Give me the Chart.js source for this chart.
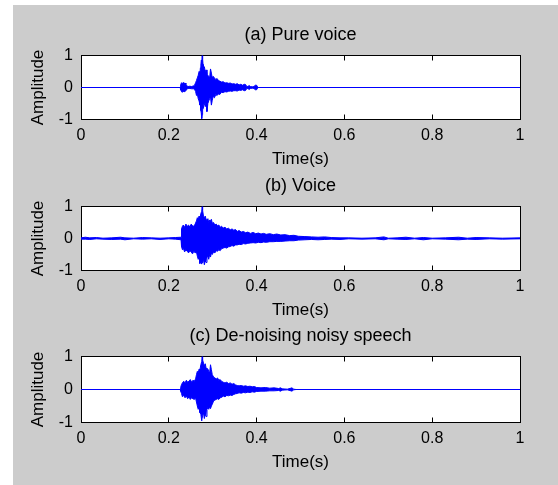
<!DOCTYPE html>
<html>
<head>
<meta charset="utf-8">
<script src="https://cdn.jsdelivr.net/npm/chart.js@4.4.1/dist/chart.umd.min.js"></script>
<style>
  html, body { margin: 0; padding: 0; background: #fff; }
  #fig { position: absolute; left: 13px; top: 5px; width: 545px; height: 480px; background: #cccccc; }
  canvas { position: absolute; left: 0; }
</style>
</head>
<body>
<div id="fig"></div>
<canvas id="c0" width="558" height="164" style="top:10px"></canvas>
<canvas id="c1" width="558" height="164" style="top:161px"></canvas>
<canvas id="c2" width="558" height="166" style="top:311px"></canvas>
<script>
// tick labels (MATLAB default ticks)
const xTicks = [0, 0.2, 0.4, 0.6, 0.8, 1];
const xTickLabels = ['0', '0.2', '0.4', '0.6', '0.8', '1'];
const yTicks = [-1, 0, 1];
const yTickLabels = ['-1', '0', '1'];

const titles = ['(a) Pure voice', '(b) Voice', '(c) De-noising noisy speech'];

// (a) pure voice — envelope (time s, upper, lower)
const tA = [0, 0.226, 0.227, 0.229, 0.231, 0.233, 0.235, 0.237, 0.239, 0.241, 0.244, 0.248, 0.252, 0.256, 0.259,
  0.261, 0.263, 0.265, 0.267, 0.269, 0.271, 0.272, 0.273, 0.274, 0.275, 0.276, 0.277, 0.278, 0.279, 0.281,
  0.283, 0.285, 0.287, 0.289, 0.291, 0.293, 0.295, 0.297, 0.299, 0.301, 0.304, 0.307, 0.31, 0.313, 0.316,
  0.32, 0.324, 0.328, 0.332, 0.336, 0.34, 0.344, 0.348, 0.352, 0.356, 0.36, 0.364, 0.368, 0.372, 0.375,
  0.377, 0.38, 0.383, 0.386, 0.39, 0.394, 0.397, 0.4, 0.402, 0.404, 1];
const upA = [0, 0, 0.08, 0.15, 0.12, 0.16, 0.13, 0.14, 0.1, 0.05, 0.03, 0.04, 0.03, 0.05, 0.08,
  0.15, 0.22, 0.3, 0.38, 0.5, 0.45, 0.62, 0.7, 0.85, 0.78, 1.0, 0.9, 0.72, 0.6, 0.65,
  0.5, 0.55, 0.42, 0.38, 0.35, 0.3, 0.58, 0.45, 0.3, 0.35, 0.3, 0.25, 0.28, 0.22, 0.2,
  0.17, 0.18, 0.14, 0.15, 0.13, 0.14, 0.11, 0.12, 0.1, 0.12, 0.08, 0.1, 0.07, 0.1, 0.09,
  0.04, 0.03, 0.06, 0.03, 0.02, 0.03, 0.07, 0.07, 0.03, 0, 0];
const loA = [0, 0, -0.07, -0.13, -0.15, -0.12, -0.14, -0.11, -0.1, -0.05, -0.03, -0.03, -0.04, -0.04, -0.07,
  -0.12, -0.25, -0.2, -0.35, -0.42, -0.55, -0.5, -0.72, -0.8, -0.97, -0.85, -0.7, -0.65, -0.55, -0.5,
  -0.6, -0.45, -0.75, -0.5, -0.42, -0.35, -0.3, -0.55, -0.4, -0.28, -0.32, -0.22, -0.25, -0.2, -0.22,
  -0.15, -0.16, -0.13, -0.14, -0.12, -0.11, -0.12, -0.1, -0.1, -0.11, -0.08, -0.09, -0.07, -0.1, -0.09,
  -0.04, -0.03, -0.06, -0.03, -0.02, -0.03, -0.07, -0.07, -0.03, 0, 0];

// (b) noisy voice
const tB = [0, 0.01, 0.02, 0.035, 0.05, 0.07, 0.09, 0.1, 0.12, 0.14, 0.16, 0.18, 0.2, 0.215, 0.228,
  0.229, 0.231, 0.233, 0.236, 0.239, 0.242, 0.245, 0.248, 0.251, 0.254, 0.257, 0.26, 0.263, 0.265,
  0.267, 0.269, 0.271, 0.273, 0.275, 0.276, 0.277, 0.279, 0.281, 0.283, 0.285, 0.287, 0.289, 0.291,
  0.293, 0.295, 0.297, 0.299, 0.302, 0.305, 0.308, 0.311, 0.314, 0.317, 0.32, 0.324, 0.328, 0.332,
  0.336, 0.34, 0.344, 0.348, 0.352, 0.356, 0.36, 0.365, 0.37, 0.375, 0.38, 0.386, 0.392, 0.398,
  0.404, 0.41, 0.416, 0.422, 0.43, 0.438, 0.446, 0.455, 0.465, 0.475, 0.485, 0.495, 0.51, 0.525,
  0.54, 0.555, 0.57, 0.59, 0.61, 0.64, 0.67, 0.69, 0.7, 0.72, 0.74, 0.76, 0.78, 0.8, 0.83,
  0.86, 0.88, 0.9, 0.93, 0.96, 1];
const upB = [0.02, 0.04, 0.02, 0.03, 0.01, 0.02, 0.04, 0.02, 0.01, 0.03, 0.02, 0.01, 0.02, 0.03, 0.04,
  0.3, 0.38, 0.42, 0.35, 0.45, 0.38, 0.42, 0.36, 0.45, 0.4, 0.38, 0.45, 0.55, 0.65,
  0.6, 0.7, 0.62, 0.78, 0.85, 1.0, 0.88, 0.7, 0.65, 0.7, 0.6, 0.55, 0.62, 0.5,
  0.58, 0.55, 0.6, 0.48, 0.5, 0.42, 0.45, 0.4, 0.42, 0.35, 0.38, 0.33, 0.35, 0.3,
  0.32, 0.27, 0.3, 0.26, 0.28, 0.22, 0.25, 0.2, 0.22, 0.18, 0.2, 0.16, 0.19, 0.15,
  0.17, 0.14, 0.16, 0.13, 0.15, 0.12, 0.14, 0.11, 0.12, 0.09, 0.1, 0.07, 0.06, 0.05,
  0.04, 0.05, 0.03, 0.02, 0.02, 0.01, 0.02, 0.05, 0.01, 0.02, 0.04, 0.01, 0.03, 0.01, 0.02,
  0.04, 0.01, 0.03, 0.02, 0.01, 0.02];
const loB = [-0.02, -0.02, -0.03, -0.01, -0.02, -0.03, -0.02, -0.04, -0.01, -0.02, -0.01, -0.03, -0.01, -0.02, -0.04,
  -0.25, -0.35, -0.3, -0.42, -0.35, -0.4, -0.45, -0.38, -0.42, -0.48, -0.4, -0.45, -0.42, -0.55,
  -0.65, -0.6, -0.78, -0.7, -0.8, -0.72, -0.75, -0.65, -0.82, -0.7, -0.75, -0.6, -0.55, -0.65,
  -0.5, -0.58, -0.45, -0.5, -0.42, -0.45, -0.38, -0.4, -0.35, -0.38, -0.32, -0.3, -0.28, -0.3,
  -0.26, -0.25, -0.22, -0.24, -0.2, -0.2, -0.18, -0.19, -0.16, -0.17, -0.15, -0.14, -0.13, -0.14,
  -0.12, -0.13, -0.11, -0.12, -0.1, -0.1, -0.09, -0.09, -0.08, -0.07, -0.07, -0.05, -0.04, -0.03,
  -0.04, -0.03, -0.02, -0.03, -0.01, -0.02, -0.01, -0.04, -0.01, -0.02, -0.03, -0.01, -0.04, -0.01, -0.02,
  -0.04, -0.02, -0.03, -0.01, -0.02, -0.01];

// (c) de-noised speech
const tC = [0, 0.226, 0.227, 0.229, 0.231, 0.234, 0.237, 0.24, 0.243, 0.246, 0.249, 0.252, 0.255, 0.258,
  0.261, 0.263, 0.265, 0.267, 0.269, 0.271, 0.273, 0.275, 0.276, 0.277, 0.279, 0.281, 0.283, 0.285,
  0.287, 0.289, 0.291, 0.293, 0.295, 0.297, 0.299, 0.302, 0.305, 0.308, 0.311, 0.314, 0.317, 0.32,
  0.324, 0.328, 0.332, 0.336, 0.34, 0.344, 0.348, 0.352, 0.356, 0.36, 0.365, 0.37, 0.375, 0.38,
  0.385, 0.39, 0.395, 0.4, 0.41, 0.42, 0.43, 0.44, 0.45, 0.455, 0.458, 0.47, 0.481, 0.484, 0.49, 1];
const upC = [0, 0, 0.06, 0.15, 0.2, 0.25, 0.2, 0.28, 0.22, 0.25, 0.3, 0.22, 0.28, 0.25,
  0.32, 0.45, 0.55, 0.5, 0.62, 0.6, 0.75, 0.85, 1.0, 0.9, 0.8, 0.72, 0.78, 0.65,
  0.6, 0.62, 0.55, 0.5, 0.75, 0.6, 0.45, 0.38, 0.35, 0.32, 0.35, 0.28, 0.3, 0.25,
  0.22, 0.2, 0.22, 0.18, 0.2, 0.16, 0.18, 0.14, 0.12, 0.11, 0.12, 0.1, 0.11, 0.09,
  0.1, 0.08, 0.09, 0.06, 0.05, 0.06, 0.04, 0.05, 0.03, 0.05, 0.02, 0.01, 0.05, 0.01, 0, 0];
const loC = [0, 0, -0.05, -0.12, -0.22, -0.18, -0.25, -0.2, -0.28, -0.22, -0.3, -0.25, -0.28, -0.3,
  -0.26, -0.38, -0.5, -0.6, -0.55, -0.7, -0.75, -0.95, -0.85, -0.8, -0.7, -0.88, -0.75, -0.82,
  -0.6, -0.55, -0.6, -0.52, -0.58, -0.5, -0.45, -0.35, -0.32, -0.3, -0.28, -0.3, -0.25, -0.24,
  -0.2, -0.22, -0.18, -0.19, -0.17, -0.18, -0.15, -0.13, -0.12, -0.1, -0.11, -0.09, -0.1, -0.08,
  -0.09, -0.07, -0.08, -0.06, -0.05, -0.05, -0.04, -0.04, -0.03, -0.05, -0.02, -0.01, -0.05, -0.01, 0, 0];

const FONT = "'Liberation Sans', Arial, sans-serif";
const BLUE = '#0000ff';

// white axes background, like a MATLAB axes
const axesBg = {
  id: 'axesBg',
  beforeDraw(chart) {
    const { ctx, chartArea: a } = chart;
    ctx.save();
    ctx.fillStyle = '#fff';
    ctx.fillRect(a.left, a.top, a.right - a.left, a.bottom - a.top);
    ctx.restore();
  },
};

function pts(t, v) {
  return t.map((x, i) => ({ x, y: v[i] }));
}

function fixSize(w, h) {
  return (s) => {
    if (w !== null) s.width = w;
    if (h !== null) s.height = h;
    s.paddingLeft = 0; s.paddingRight = 0; s.paddingTop = 0; s.paddingBottom = 0;
  };
}

const tickGrid = { drawOnChartArea: false, drawTicks: true, tickLength: -5, color: '#000', lineWidth: 1 };
const border = { display: true, color: '#000', width: 1 };

function makeChart(id, title, t, up, lo) {
  return new Chart(document.getElementById(id), {
    type: 'line',
    data: {
      datasets: [
        { data: pts(t, up), borderColor: BLUE, backgroundColor: BLUE, borderWidth: 1,
          pointRadius: 0, fill: '+1', tension: 0 },
        { data: pts(t, lo), borderColor: BLUE, backgroundColor: BLUE, borderWidth: 1,
          pointRadius: 0, fill: false, tension: 0 },
      ],
    },
    options: {
      responsive: false,
      animation: false,
      events: [],
      layout: { padding: { left: 0, right: 38, top: 0, bottom: 0 } },
      plugins: {
        legend: { display: false },
        tooltip: { enabled: false },
        title: { display: false },
      },
      scales: {
        x: {
          type: 'linear', position: 'bottom', min: 0, max: 1,
          afterBuildTicks: (s) => { s.ticks = xTicks.map((v) => ({ value: v })); },
          ticks: { color: '#000', font: { family: FONT, size: 16 }, padding: 11.7, maxRotation: 0,
            callback: (v) => xTickLabels[xTicks.indexOf(v)] },
          grid: tickGrid, border,
          title: { display: true, text: 'Time(s)', color: '#000',
            font: { family: FONT, size: 17 }, padding: { top: 0, bottom: 4.8 } },
          afterFit: fixSize(null, 54.5),
        },
        // top axis carries the subplot title, centred over the axes like MATLAB
        xTop: {
          type: 'linear', position: 'top', min: 0, max: 1,
          afterBuildTicks: (s) => { s.ticks = xTicks.map((v) => ({ value: v })); },
          ticks: { display: false },
          grid: tickGrid, border,
          title: { display: true, text: title, color: '#000',
            font: { family: FONT, size: 18 }, padding: { top: 14.2, bottom: 0 } },
          afterFit: fixSize(null, 45.5),
        },
        y: {
          type: 'linear', position: 'left', min: -1, max: 1,
          afterBuildTicks: (s) => { s.ticks = yTicks.map((v) => ({ value: v })); },
          ticks: { color: '#000', font: { family: FONT, size: 16 }, padding: 13,
            callback: (v) => yTickLabels[yTicks.indexOf(v)] },
          grid: tickGrid, border,
          title: { display: true, text: 'Amplitude', color: '#000',
            font: { family: FONT, size: 17 }, padding: { top: 27.8, bottom: 0 } },
          afterFit: fixSize(81, null),
        },
        yRight: {
          type: 'linear', position: 'right', min: -1, max: 1,
          afterBuildTicks: (s) => { s.ticks = yTicks.map((v) => ({ value: v })); },
          ticks: { display: false },
          grid: tickGrid, border,
          afterFit: fixSize(0, null),
        },
      },
    },
    plugins: [axesBg],
  });
}

makeChart('c0', titles[0], tA, upA, loA);
makeChart('c1', titles[1], tB, upB, loB);
makeChart('c2', titles[2], tC, upC, loC);
</script>
</body>
</html>
